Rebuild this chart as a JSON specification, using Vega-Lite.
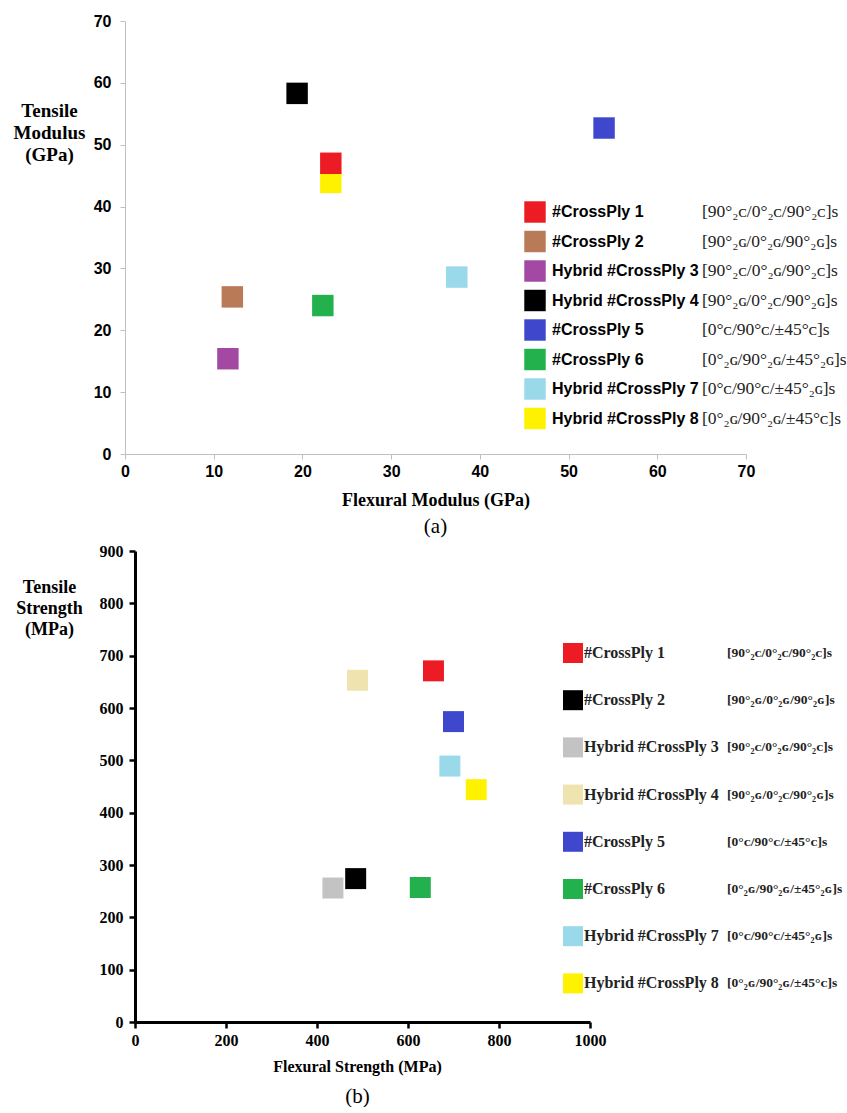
{
  "$schema": "https://vega.github.io/schema/vega-lite/v6.json",
  "padding": {"left": 13, "top": 13, "right": 0, "bottom": 0},
  "spacing": 6,
  "background": "white",
  "config": {"view": {"stroke": null}},
  "vconcat": [
    {
      "width": 621,
      "height": 433,
      "title": {"text": "(a)", "orient": "bottom", "font": "Liberation Serif", "fontSize": 21, "fontWeight": "normal", "color": "#000", "offset": 7},
      "data": {
        "values": [
          {"laminate": "Hybrid #CrossPly 8", "layup": "[0°₂ɢ/90°₂ɢ/±45°ᴄ]s", "flexural_modulus": 23.2, "tensile_modulus": 43.9},
          {"laminate": "#CrossPly 1", "layup": "[90°₂ᴄ/0°₂ᴄ/90°₂ᴄ]s", "flexural_modulus": 23.2, "tensile_modulus": 47.0},
          {"laminate": "#CrossPly 2", "layup": "[90°₂ɢ/0°₂ɢ/90°₂ɢ]s", "flexural_modulus": 12.1, "tensile_modulus": 25.4},
          {"laminate": "Hybrid #CrossPly 3", "layup": "[90°₂ᴄ/0°₂ɢ/90°₂ᴄ]s", "flexural_modulus": 11.6, "tensile_modulus": 15.4},
          {"laminate": "Hybrid #CrossPly 4", "layup": "[90°₂ɢ/0°₂ᴄ/90°₂ɢ]s", "flexural_modulus": 19.4, "tensile_modulus": 58.3},
          {"laminate": "#CrossPly 5", "layup": "[0°ᴄ/90°ᴄ/±45°ᴄ]s", "flexural_modulus": 54.0, "tensile_modulus": 52.7},
          {"laminate": "#CrossPly 6", "layup": "[0°₂ɢ/90°₂ɢ/±45°₂ɢ]s", "flexural_modulus": 22.3, "tensile_modulus": 24.0},
          {"laminate": "Hybrid #CrossPly 7", "layup": "[0°ᴄ/90°ᴄ/±45°₂ɢ]s", "flexural_modulus": 37.4, "tensile_modulus": 28.6}
        ]
      },
      "mark": {"type": "point", "shape": "square", "filled": true, "opacity": 1, "size": 460},
      "encoding": {
        "x": {
          "field": "flexural_modulus", "type": "quantitative",
          "scale": {"domain": [0, 70], "nice": false, "zero": true},
          "axis": {
            "values": [0, 10, 20, 30, 40, 50, 60, 70],
            "grid": false, "domainColor": "#c0c0c0", "tickColor": "#c0c0c0", "tickSize": 5, "domainWidth": 1, "tickWidth": 1,
            "labelFont": "Liberation Sans", "labelFontSize": 16, "labelFontWeight": "bold", "labelColor": "#000", "labelPadding": 4, "labelFlush": false,
            "title": "Flexural Modulus (GPa)", "titleFont": "Liberation Serif", "titleFontSize": 18, "titleFontWeight": "bold", "titleColor": "#000", "titlePadding": 12
          }
        },
        "y": {
          "field": "tensile_modulus", "type": "quantitative",
          "scale": {"domain": [0, 70], "nice": false, "zero": true},
          "axis": {
            "values": [0, 10, 20, 30, 40, 50, 60, 70],
            "grid": false, "domainColor": "#c0c0c0", "tickColor": "#c0c0c0", "tickSize": 5, "domainWidth": 1, "tickWidth": 1,
            "labelFont": "Liberation Sans", "labelFontSize": 16, "labelFontWeight": "bold", "labelColor": "#000", "labelPadding": 9,
            "title": ["Tensile", "Modulus", "(GPa)"], "titleFont": "Liberation Serif", "titleFontSize": 19, "titleFontWeight": "bold", "titleColor": "#000",
            "titleAngle": 0, "titleAlign": "center", "titleBaseline": "middle", "titleX": -76, "titleY": 89, "titleLineHeight": 22
          }
        },
        "color": {
          "field": "laminate", "type": "nominal",
          "scale": {
            "domain": ["#CrossPly 1", "#CrossPly 2", "Hybrid #CrossPly 3", "Hybrid #CrossPly 4", "#CrossPly 5", "#CrossPly 6", "Hybrid #CrossPly 7", "Hybrid #CrossPly 8"],
            "range": ["#ED1C24", "#B97A57", "#A349A4", "#000000", "#3F48CC", "#22B14C", "#99D9EA", "#FFF200"]
          },
          "legend": {
            "orient": "none", "legendX": 399, "legendY": 180, "title": null, "padding": 0, "direction": "vertical",
            "symbolType": "square", "symbolSize": 460, "symbolStrokeWidth": 0, "symbolOpacity": 1,
            "labelFont": "Liberation Sans", "labelFontSize": 16, "labelFontWeight": "bold", "labelColor": "#000", "labelOffset": 6, "labelLimit": 300,
            "rowPadding": 7.5
          }
        },
        "shape": {
          "field": "layup", "type": "nominal",
          "scale": {
            "domain": ["[90°₂ᴄ/0°₂ᴄ/90°₂ᴄ]s", "[90°₂ɢ/0°₂ɢ/90°₂ɢ]s", "[90°₂ᴄ/0°₂ɢ/90°₂ᴄ]s", "[90°₂ɢ/0°₂ᴄ/90°₂ɢ]s", "[0°ᴄ/90°ᴄ/±45°ᴄ]s", "[0°₂ɢ/90°₂ɢ/±45°₂ɢ]s", "[0°ᴄ/90°ᴄ/±45°₂ɢ]s", "[0°₂ɢ/90°₂ɢ/±45°ᴄ]s"],
            "range": ["square"]
          },
          "legend": {
            "orient": "none", "legendX": 549, "legendY": 180, "title": null, "padding": 0, "direction": "vertical",
            "symbolType": "square", "symbolSize": 460, "symbolStrokeWidth": 0, "symbolOpacity": 0, "symbolFillColor": "transparent",
            "labelFont": "Liberation Serif", "labelFontSize": 17.5, "labelFontWeight": "normal", "labelColor": "#222", "labelOffset": 6, "labelLimit": 300,
            "rowPadding": 7.5
          }
        }
      },
      "resolve": {"scale": {"color": "independent", "shape": "independent"}}
    },
    {
      "width": 465,
      "height": 471,
      "title": {"text": "(b)", "orient": "bottom", "font": "Liberation Serif", "fontSize": 21, "fontWeight": "normal", "color": "#000", "offset": 12},
      "data": {
        "values": [
          {"laminate": "#CrossPly 1", "layup": "[90°₂ᴄ/0°₂ᴄ/90°₂ᴄ]s", "flexural_strength": 656, "tensile_strength": 671},
          {"laminate": "#CrossPly 2", "layup": "[90°₂ɢ/0°₂ɢ/90°₂ɢ]s", "flexural_strength": 485, "tensile_strength": 274},
          {"laminate": "Hybrid #CrossPly 3", "layup": "[90°₂ᴄ/0°₂ɢ/90°₂ᴄ]s", "flexural_strength": 435, "tensile_strength": 256},
          {"laminate": "Hybrid #CrossPly 4", "layup": "[90°₂ɢ/0°₂ᴄ/90°₂ɢ]s", "flexural_strength": 489, "tensile_strength": 653},
          {"laminate": "#CrossPly 5", "layup": "[0°ᴄ/90°ᴄ/±45°ᴄ]s", "flexural_strength": 700, "tensile_strength": 574},
          {"laminate": "#CrossPly 6", "layup": "[0°₂ɢ/90°₂ɢ/±45°₂ɢ]s", "flexural_strength": 627, "tensile_strength": 257},
          {"laminate": "Hybrid #CrossPly 7", "layup": "[0°ᴄ/90°ᴄ/±45°₂ɢ]s", "flexural_strength": 692, "tensile_strength": 489},
          {"laminate": "Hybrid #CrossPly 8", "layup": "[0°₂ɢ/90°₂ɢ/±45°ᴄ]s", "flexural_strength": 750, "tensile_strength": 444}
        ]
      },
      "mark": {"type": "point", "shape": "square", "filled": true, "opacity": 1, "size": 440},
      "encoding": {
        "x": {
          "field": "flexural_strength", "type": "quantitative",
          "scale": {"domain": [0, 1000], "nice": false, "zero": true, "range": [10, 465]},
          "axis": {
            "values": [0, 200, 400, 600, 800, 1000], "format": "d",
            "grid": false, "domainColor": "#000", "tickColor": "#000", "tickSize": 6, "domainWidth": 3, "tickWidth": 2.5,
            "labelFont": "Liberation Serif", "labelFontSize": 16, "labelFontWeight": "bold", "labelColor": "#000", "labelPadding": 4, "labelFlush": false,
            "title": "Flexural Strength (MPa)", "titleFont": "Liberation Serif", "titleFontSize": 16, "titleFontWeight": "bold", "titleColor": "#000", "titlePadding": 10,
            "titleX": 232
          }
        },
        "y": {
          "field": "tensile_strength", "type": "quantitative",
          "scale": {"domain": [0, 900], "nice": false, "zero": true},
          "axis": {
            "values": [0, 100, 200, 300, 400, 500, 600, 700, 800, 900], "format": "d", "offset": -10,
            "grid": false, "domainColor": "#000", "tickColor": "#000", "tickSize": 6, "domainWidth": 3, "tickWidth": 2.5,
            "labelFont": "Liberation Serif", "labelFontSize": 16, "labelFontWeight": "bold", "labelColor": "#000", "labelPadding": 6,
            "title": ["Tensile", "Strength", "(MPa)"], "titleFont": "Liberation Serif", "titleFontSize": 18, "titleFontWeight": "bold", "titleColor": "#000",
            "titleAngle": 0, "titleAlign": "center", "titleBaseline": "middle", "titleX": -86, "titleY": 36, "titleLineHeight": 21
          }
        },
        "color": {
          "field": "laminate", "type": "nominal",
          "scale": {
            "domain": ["#CrossPly 1", "#CrossPly 2", "Hybrid #CrossPly 3", "Hybrid #CrossPly 4", "#CrossPly 5", "#CrossPly 6", "Hybrid #CrossPly 7", "Hybrid #CrossPly 8"],
            "range": ["#ED1C24", "#000000", "#C3C3C3", "#EFE4B0", "#3F48CC", "#22B14C", "#99D9EA", "#FFF200"]
          },
          "legend": {
            "orient": "none", "legendX": 438, "legendY": 92, "title": null, "padding": 0, "direction": "vertical",
            "symbolType": "square", "symbolSize": 400, "symbolStrokeWidth": 0, "symbolOpacity": 1,
            "labelFont": "Liberation Serif", "labelFontSize": 16, "labelFontWeight": "bold", "labelColor": "#222", "labelOffset": 1, "labelLimit": 300,
            "rowPadding": 27.2
          }
        },
        "shape": {
          "field": "layup", "type": "nominal",
          "scale": {
            "domain": ["[90°₂ᴄ/0°₂ᴄ/90°₂ᴄ]s", "[90°₂ɢ/0°₂ɢ/90°₂ɢ]s", "[90°₂ᴄ/0°₂ɢ/90°₂ᴄ]s", "[90°₂ɢ/0°₂ᴄ/90°₂ɢ]s", "[0°ᴄ/90°ᴄ/±45°ᴄ]s", "[0°₂ɢ/90°₂ɢ/±45°₂ɢ]s", "[0°ᴄ/90°ᴄ/±45°₂ɢ]s", "[0°₂ɢ/90°₂ɢ/±45°ᴄ]s"],
            "range": ["square"]
          },
          "legend": {
            "orient": "none", "legendX": 581, "legendY": 92, "title": null, "padding": 0, "direction": "vertical",
            "symbolType": "square", "symbolSize": 400, "symbolStrokeWidth": 0, "symbolOpacity": 0, "symbolFillColor": "transparent",
            "labelFont": "Liberation Serif", "labelFontSize": 13.5, "labelFontWeight": "bold", "labelColor": "#222", "labelOffset": 1, "labelLimit": 300,
            "rowPadding": 27.2
          }
        }
      },
      "resolve": {"scale": {"color": "independent", "shape": "independent"}}
    }
  ],
  "resolve": {"scale": {"color": "independent", "shape": "independent"}, "legend": {"color": "independent", "shape": "independent"}}
}
